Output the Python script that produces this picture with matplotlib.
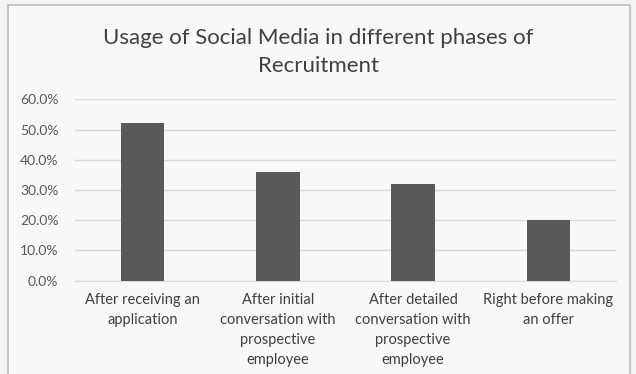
import matplotlib
matplotlib.use("Agg")
import matplotlib.pyplot as plt
from matplotlib.patches import Rectangle
from matplotlib.ticker import PercentFormatter

# Share of recruiters using social media at each phase
phases = [
    "After receiving an\napplication",
    "After initial\nconversation with\nprospective\nemployee",
    "After detailed\nconversation with\nprospective\nemployee",
    "Right before making\nan offer",
]
usage = [0.52, 0.36, 0.32, 0.20]
y_ticks = [0.0, 0.1, 0.2, 0.3, 0.4, 0.5, 0.6]

title = "Usage of Social Media in different phases of\nRecruitment"

plt.rcParams["font.family"] = ["Lato", "DejaVu Sans"]

fig = plt.figure(figsize=(6.36, 3.74), dpi=100, facecolor="#f3f3f3")

# chart frame
frame = Rectangle((8 / 636, -0.05), 622 / 636, 1 - 5 / 374 + 0.05,
                  transform=fig.transFigure, facecolor="#f8f8f8",
                  edgecolor="#bdbdbd", linewidth=1.2, zorder=-10)
fig.patches.append(frame)

ax = fig.add_axes([75 / 636, 1 - 280.7 / 374, 541 / 636, (280.7 - 99.3) / 374])
ax.set_zorder(2)
ax.set_facecolor("none")

x = list(range(len(phases)))
ax.bar(x, usage, width=0.32, color="#595959", zorder=3)

ax.set_xlim(-0.5, len(phases) - 0.5)
ax.set_ylim(0, 0.6)
ax.set_yticks(y_ticks)
ax.yaxis.set_major_formatter(PercentFormatter(1.0, decimals=1))
ax.grid(axis="y", color="#d9d9d9", linewidth=1, zorder=0)
for s in ["left", "right", "top"]:
    ax.spines[s].set_visible(False)
ax.spines["bottom"].set_color("#d9d9d9")

ax.set_xticks(x)
ax.set_xticklabels(phases, fontsize=10.5, color="#404040", linespacing=1.55,
                   va="top")
ax.tick_params(axis="x", length=0, pad=9)
ax.tick_params(axis="y", length=0, pad=12, labelsize=10, labelcolor="#595959")

fig.text(0.5, 1 - 52.5 / 374, title, ha="center", va="center", fontsize=16,
         color="#404040", linespacing=1.5, zorder=5)

fig.savefig("out.png", dpi=100, facecolor=fig.get_facecolor())
